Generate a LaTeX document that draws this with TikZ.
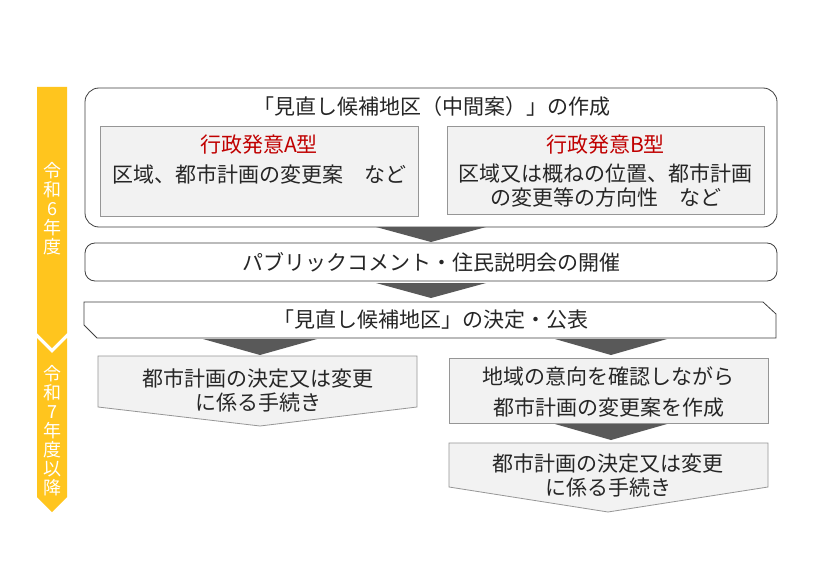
\documentclass[tikz,border=0pt]{standalone}
\usepackage{fontspec}
\setmainfont{Noto Sans CJK JP}
\definecolor{barcolor}{RGB}{255,197,30}
\definecolor{redt}{RGB}{192,0,0}
\definecolor{boxfill}{RGB}{242,242,242}
\definecolor{boxline}{RGB}{150,150,150}
\definecolor{arr}{RGB}{89,89,89}
\definecolor{outl}{RGB}{64,64,64}
\definecolor{txtc}{RGB}{38,38,38}
\begin{document}
\begin{tikzpicture}[x=1pt,y=-1pt,
  txt/.style={font=\fontsize{21}{24}\selectfont, text=txtc, align=center, inner sep=0pt},
  redtxt/.style={font=\fontsize{21}{24}\selectfont, text=redt, align=center, inner sep=0pt},
  ytxt/.style={font=\fontsize{18}{19}\selectfont, text=white, align=center, inner sep=0pt},
  outerbox/.style={draw=outl, line width=0.8pt, rounded corners=14pt, inner sep=0pt},
  graybox/.style={draw=boxline, fill=boxfill, line width=0.8pt, inner sep=0pt},
  grayshape/.style={draw=boxline, fill=boxfill, line width=0.8pt},
  plainshape/.style={draw=outl, fill=white, line width=0.8pt},
  downarrow/.style={fill=arr},
  periodbar/.style={fill=barcolor}]
\useasboundingbox (0,0) rectangle (830,575);
\fill[white] (0,0) rectangle (830,575);

% yellow period bar
\path[periodbar] (37,87) -- (67,87) -- (67,333) -- (52,348) -- (37,333) -- cycle;
\path[periodbar] (37,338) -- (52,353) -- (67,338) -- (67,497) -- (52,512) -- (37,497) -- cycle;
\node[ytxt] (y1) at (52,209) {令\\和\\6\\年\\度};
\node[ytxt] (y2) at (52,431) {令\\和\\7\\年\\度\\以\\降};

% box 1
\node[outerbox, minimum width=692pt, minimum height=139pt] (b1) at (431,157.5) {};
\node[txt] (t1) at (432,107) {「見直し候補地区（中間案）」の作成};
\node[graybox, minimum width=318pt, minimum height=90pt] (ba) at (259,171) {};
\node[redtxt] (ta1) at (259,145) {行政発意A型};
\node[txt] (ta2) at (259,174) {区域、都市計画の変更案　など};
\node[graybox, minimum width=317pt, minimum height=88pt] (bb) at (605.5,170) {};
\node[redtxt] (tb1) at (605.5,145) {行政発意B型};
\node[txt] (tb2) at (605.5,186) {区域又は概ねの位置、都市計画\\の変更等の方向性　など};

% arrow 1
\fill[downarrow] (376,227) -- (486,227) -- (431,242) -- cycle;

% box 2
\node[outerbox, rounded corners=10pt, minimum width=692pt, minimum height=38pt] (b2) at (431,262) {};
\node[txt] (t2) at (431,262) {パブリックコメント・住民説明会の開催};

% arrow 2
\fill[downarrow] (376,283) -- (486,283) -- (431,298) -- cycle;

% box 3
\draw[plainshape] (84,302) -- (763,302) -- (776,314) -- (776,338) -- (97,338) -- (84,325) -- cycle;
\node[txt] (t3) at (431,320) {「見直し候補地区」の決定・公表};

% arrows 3
\fill[downarrow] (203,339) -- (317,339) -- (260,355) -- cycle;
\fill[downarrow] (555,339) -- (667,339) -- (611,355) -- cycle;

% box 4 (left)
\draw[grayshape] (98,356) -- (417,356) -- (417,407) -- (260,426) -- (98,407) -- cycle;
\node[txt] (t4) at (258,390) {都市計画の決定又は変更\\に係る手続き};

% box 5 (right)
\node[graybox, minimum width=319pt, minimum height=65pt] (b5) at (608.5,390.5) {};
\node[txt, font=\fontsize{21}{31}\selectfont] (t5) at (608.5,392) {地域の意向を確認しながら\\都市計画の変更案を作成};

% arrow 4
\fill[downarrow] (555,424) -- (667,424) -- (611,440) -- cycle;

% box 6
\draw[grayshape] (449,443) -- (768,443) -- (768,487) -- (608,512) -- (449,487) -- cycle;
\node[txt] (t6) at (608,475) {都市計画の決定又は変更\\に係る手続き};
\end{tikzpicture}
\end{document}
